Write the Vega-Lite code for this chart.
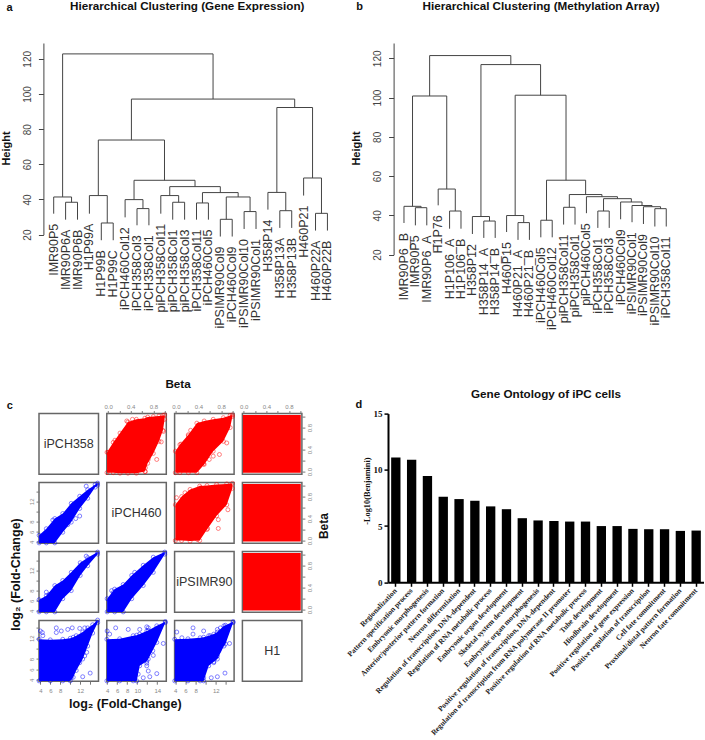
{"$schema":"https://vega.github.io/schema/vega-lite/v6.json","autosize":{"type":"pad"},"padding":{"left":0,"top":0,"right":0,"bottom":0},"background":"white","config":{"view":{"stroke":null},"font":"Liberation Sans","axis":{"grid":false,"labelFlush":false}},
"datasets":{
"nodesA":[{"xl":0.75,"xr":13.39,"h":122.8,"bl":41.4,"br":97.1},{"xl":0,"xr":1.5,"h":41.4,"bl":31.9,"br":38.4},{"xl":1,"xr":2,"h":38.4,"bl":28.5,"br":28.5},{"xl":6.53,"xr":20.25,"h":97.1,"bl":73.8,"br":92.3},{"xl":3.75,"xr":9.31,"h":73.8,"bl":42.2,"br":50.9},{"xl":3,"xr":4.5,"h":42.2,"bl":31.9,"br":26.6},{"xl":4,"xr":5,"h":26.6,"bl":16.8,"br":16.8},{"xl":6.75,"xr":11.875,"h":50.9,"bl":39.9,"br":47.3},{"xl":6,"xr":7.5,"h":39.9,"bl":29.8,"br":34.8},{"xl":7,"xr":8,"h":34.8,"bl":25.3,"br":25.3},{"xl":9.75,"xr":14,"h":47.3,"bl":42.2,"br":43.9},{"xl":9,"xr":10.5,"h":42.2,"bl":31.9,"br":38.4},{"xl":10,"xr":11,"h":38.4,"bl":28.5,"br":28.5},{"xl":12.5,"xr":15.5,"h":43.9,"bl":38,"br":41.4},{"xl":12,"xr":13,"h":38,"bl":28.5,"br":28.5},{"xl":14.5,"xr":16.5,"h":41.4,"bl":28.7,"br":33.1},{"xl":14,"xr":15,"h":28.7,"bl":18.9,"br":18.9},{"xl":16,"xr":17,"h":33.1,"bl":23.2,"br":23.2},{"xl":18.75,"xr":21.75,"h":92.3,"bl":44,"br":52.2},{"xl":18,"xr":19.5,"h":44,"bl":34.2,"br":33.6},{"xl":19,"xr":20,"h":33.6,"bl":23.8,"br":23.8},{"xl":21,"xr":22.5,"h":52.2,"bl":42.2,"br":32.1},{"xl":22,"xr":23,"h":32.1,"bl":22.3,"br":22.3}],
"leavesA":[{"i":0,"n":"IMR90P5","low":31.9},{"i":1,"n":"IMR90P6A","low":28.5},{"i":2,"n":"IMR90P6B","low":28.5},{"i":3,"n":"H1P99A","low":31.9},{"i":4,"n":"H1P99B","low":16.8},{"i":5,"n":"H1P99C","low":16.8},{"i":6,"n":"iPCH460Col12","low":29.8},{"i":7,"n":"iPCH358Col3","low":25.3},{"i":8,"n":"iPCH358Col1","low":25.3},{"i":9,"n":"piPCH358Col11","low":31.9},{"i":10,"n":"piPCH358Col1","low":28.5},{"i":11,"n":"piPCH358Col3","low":28.5},{"i":12,"n":"iPCH358Col11","low":28.5},{"i":13,"n":"iPCH460Col5","low":28.5},{"i":14,"n":"iPSIMR90Col9","low":18.9},{"i":15,"n":"iPCH460Col9","low":18.9},{"i":16,"n":"iPSIMR90Col10","low":23.2},{"i":17,"n":"iPSIMR90Col1","low":23.2},{"i":18,"n":"H358P14","low":34.2},{"i":19,"n":"H358P13A","low":23.8},{"i":20,"n":"H358P13B","low":23.8},{"i":21,"n":"H460P21","low":42.2},{"i":22,"n":"H460P22A","low":22.3},{"i":23,"n":"H460P22B","low":22.3}],
"nodesB":[{"xl":2.25,"xr":9.37,"h":121.4,"bl":100.8,"br":116.8},{"xl":0.75,"xr":3.75,"h":100.8,"bl":44.6,"br":53.4},{"xl":0,"xr":1.5,"h":44.6,"bl":36.1,"br":43.9},{"xl":1,"xr":2,"h":43.9,"bl":34.9,"br":34.9},{"xl":3,"xr":4.5,"h":53.4,"bl":45.1,"br":42.2},{"xl":4,"xr":5,"h":42.2,"bl":33.2,"br":33.2},{"xl":6.75,"xr":11.98,"h":116.8,"bl":39.4,"br":101.2},{"xl":6,"xr":7.5,"h":39.4,"bl":30.5,"br":37.1},{"xl":7,"xr":8,"h":37.1,"bl":28.5,"br":28.5},{"xl":9.75,"xr":14.21,"h":101.2,"bl":39.9,"br":57.9},{"xl":9,"xr":10.5,"h":39.9,"bl":31.5,"br":36.3},{"xl":10,"xr":11,"h":36.3,"bl":27.5,"br":27.5},{"xl":12.5,"xr":15.93,"h":57.9,"bl":37.5,"br":50.6},{"xl":12,"xr":13,"h":37.5,"bl":28.8,"br":28.8},{"xl":14.5,"xr":17.36,"h":50.6,"bl":44.1,"br":49.5},{"xl":14,"xr":15,"h":44.1,"bl":35.3,"br":35.3},{"xl":16,"xr":18.72,"h":49.5,"bl":41.1,"br":48.5},{"xl":17.5,"xr":19.94,"h":48.5,"bl":42.2,"br":46.8},{"xl":17,"xr":18,"h":42.2,"bl":33.6,"br":33.6},{"xl":19,"xr":20.875,"h":46.8,"bl":38,"br":45},{"xl":20,"xr":21.75,"h":45,"bl":36.5,"br":44.4},{"xl":21,"xr":22.5,"h":44.4,"bl":35.6,"br":43.4},{"xl":22,"xr":23,"h":43.4,"bl":34.3,"br":34.3}],
"leavesB":[{"i":0,"n":"IMR90P6_B","low":36.1},{"i":1,"n":"IMR90P5","low":34.9},{"i":2,"n":"IMR90P6_A","low":34.9},{"i":3,"n":"H1P76","low":45.1},{"i":4,"n":"H1P106_A","low":33.2},{"i":5,"n":"H1P106_B","low":33.2},{"i":6,"n":"H358P12","low":30.5},{"i":7,"n":"H358P14_A","low":28.5},{"i":8,"n":"H358P14_B","low":28.5},{"i":9,"n":"H460P15","low":31.5},{"i":10,"n":"H460P21_A","low":27.5},{"i":11,"n":"H460P21_B","low":27.5},{"i":12,"n":"iPCH460Col5","low":28.8},{"i":13,"n":"iPCH460Col12","low":28.8},{"i":14,"n":"piPCH358Col11","low":35.3},{"i":15,"n":"piPCH358Col1","low":35.3},{"i":16,"n":"piPCH460Col5","low":41.1},{"i":17,"n":"iPCH358Col1","low":33.6},{"i":18,"n":"iPCH358Col3","low":33.6},{"i":19,"n":"iPCH460Col9","low":38},{"i":20,"n":"iPSIMR90Col1","low":36.5},{"i":21,"n":"iPSIMR90Col9","low":35.6},{"i":22,"n":"iPSIMR90Col10","low":34.3},{"i":23,"n":"iPCH358Col11","low":34.3}],
"cloud":[
{"p":"r1c2","x":-0.02,"lo":-0.02,"hi":0.35},{"p":"r1c2","x":0.09,"lo":-0.02,"hi":0.53},{"p":"r1c2","x":0.21,"lo":-0.03,"hi":0.7},{"p":"r1c2","x":0.35,"lo":-0.03,"hi":0.9},{"p":"r1c2","x":0.5,"lo":-0.03,"hi":0.95},{"p":"r1c2","x":0.65,"lo":0,"hi":0.97},{"p":"r1c2","x":0.7,"lo":0.15,"hi":0.99},{"p":"r1c2","x":0.8,"lo":0.33,"hi":1},{"p":"r1c2","x":0.9,"lo":0.55,"hi":1.01},{"p":"r1c2","x":0.97,"lo":0.75,"hi":1.02},{"p":"r1c2","x":1,"lo":0.95,"hi":1.03},
{"p":"r1c2","x":0,"hi":0.35},{"p":"r1c2","x":0.12,"hi":0.57},{"p":"r1c2","x":0.33,"hi":0.92},{"p":"r1c2","x":0.43,"hi":0.95},{"p":"r1c2","x":0.4,"hi":0.82},{"p":"r1c2","x":0.66,"hi":0},{"p":"r1c2","x":0.71,"hi":0.22},{"p":"r1c2","x":0.86,"hi":0.22},{"p":"r1c2","x":0.94,"hi":0.54},{"p":"r1c2","x":0.98,"hi":0.73},{"p":"r1c2","x":0.66,"hi":0.07},
{"p":"r1c3","x":-0.01,"lo":-0.02,"hi":0.37},{"p":"r1c3","x":0.07,"lo":-0.02,"hi":0.49},{"p":"r1c3","x":0.22,"lo":-0.02,"hi":0.67},{"p":"r1c3","x":0.37,"lo":-0.02,"hi":0.88},{"p":"r1c3","x":0.5,"lo":0.13,"hi":0.92},{"p":"r1c3","x":0.66,"lo":0.37,"hi":0.95},{"p":"r1c3","x":0.84,"lo":0.55,"hi":0.98},{"p":"r1c3","x":0.96,"lo":0.8,"hi":1.02},{"p":"r1c3","x":1,"lo":1,"hi":1.03},
{"p":"r1c3","x":0.09,"hi":0.5},{"p":"r1c3","x":0.22,"hi":0.65},{"p":"r1c3","x":0.4,"hi":0.85},{"p":"r1c3","x":0.41,"hi":0.85},{"p":"r1c3","x":0.26,"hi":0.75},{"p":"r1c3","x":0.66,"hi":0.28},{"p":"r1c3","x":0.77,"hi":0.31},{"p":"r1c3","x":0.9,"hi":0.52},{"p":"r1c3","x":0.59,"hi":0.22},{"p":"r1c3","x":0.49,"hi":0.14},
{"p":"r2c3","x":-0.01,"lo":0,"hi":0.65},{"p":"r2c3","x":0.1,"lo":0,"hi":0.8},{"p":"r2c3","x":0.25,"lo":-0.01,"hi":0.93},{"p":"r2c3","x":0.42,"lo":0,"hi":0.99},{"p":"r2c3","x":0.55,"lo":0.2,"hi":1},{"p":"r2c3","x":0.72,"lo":0.45,"hi":1.02},{"p":"r2c3","x":0.9,"lo":0.65,"hi":1.03},{"p":"r2c3","x":1,"lo":0.95,"hi":1.04},
{"p":"r2c3","x":0.01,"hi":0.78},{"p":"r2c3","x":0.16,"hi":0.87},{"p":"r2c3","x":0.44,"hi":0.96},{"p":"r2c3","x":0.38,"hi":0.02},{"p":"r2c3","x":0.56,"hi":0.22},{"p":"r2c3","x":0.75,"hi":0.22},{"p":"r2c3","x":0.75,"hi":0.38},{"p":"r2c3","x":0.92,"hi":0.56},
{"p":"r1c4","x":-0.015,"lo":-0.02,"hi":1.03},{"p":"r1c4","x":1.01,"lo":-0.02,"hi":1.03},
{"p":"r2c4","x":-0.015,"lo":-0.015,"hi":1.03},{"p":"r2c4","x":1.01,"lo":-0.015,"hi":1.03},
{"p":"r3c4","x":-0.015,"lo":-0.015,"hi":1.03},{"p":"r3c4","x":1.01,"lo":-0.015,"hi":1.03},
{"p":"r2c1","x":3.75,"lo":3.8,"hi":5.3},{"p":"r2c1","x":5.2,"lo":3.8,"hi":6.6},{"p":"r2c1","x":6.9,"lo":3.8,"hi":8.6},{"p":"r2c1","x":8.5,"lo":5.9,"hi":9.6},{"p":"r2c1","x":10.2,"lo":7.9,"hi":11.6},{"p":"r2c1","x":11.9,"lo":10.6,"hi":13},{"p":"r2c1","x":13.5,"lo":12.6,"hi":14.3},{"p":"r2c1","x":15,"lo":14.8,"hi":15.3},{"p":"r2c1","x":15.5,"lo":15.2,"hi":15.6},
{"p":"r2c1","x":13.2,"hi":15},{"p":"r2c1","x":11.9,"hi":9.1},{"p":"r2c1","x":11.1,"hi":8.6},{"p":"r2c1","x":6.5,"hi":8.3},{"p":"r2c1","x":9.5,"hi":7.4},
{"p":"r3c1","x":3.75,"lo":3.8,"hi":6.2},{"p":"r3c1","x":5.2,"lo":3.8,"hi":7},{"p":"r3c1","x":6.9,"lo":3.8,"hi":9},{"p":"r3c1","x":8.5,"lo":6.4,"hi":10},{"p":"r3c1","x":10.2,"lo":8,"hi":11.6},{"p":"r3c1","x":12,"lo":11,"hi":13.5},{"p":"r3c1","x":13.5,"lo":12.9,"hi":14.5},{"p":"r3c1","x":15.5,"lo":15.2,"hi":15.6},
{"p":"r3c1","x":13.2,"hi":14.8},{"p":"r3c1","x":5.2,"hi":7.7},{"p":"r3c1","x":5.7,"hi":7.2},
{"p":"r3c2","x":4,"lo":3.8,"hi":6.4},{"p":"r3c2","x":5.5,"lo":3.8,"hi":8.3},{"p":"r3c2","x":7.2,"lo":3.8,"hi":9.2},{"p":"r3c2","x":8.9,"lo":6.4,"hi":11},{"p":"r3c2","x":11.2,"lo":9,"hi":13},{"p":"r3c2","x":13.2,"lo":11.6,"hi":14.6},{"p":"r3c2","x":15.5,"lo":15.2,"hi":15.6},
{"p":"r3c2","x":9.5,"hi":11.6},{"p":"r3c2","x":4.9,"hi":8},{"p":"r3c2","x":5.2,"hi":7.6},
{"p":"r4c1","x":3.75,"lo":3.8,"hi":11.8},{"p":"r4c1","x":6,"lo":3.8,"hi":11.7},{"p":"r4c1","x":8.5,"lo":3.8,"hi":11.8},{"p":"r4c1","x":10,"lo":3.8,"hi":12},{"p":"r4c1","x":10.6,"lo":4.5,"hi":12.2},{"p":"r4c1","x":11.2,"lo":5.8,"hi":12.5},{"p":"r4c1","x":12.5,"lo":8,"hi":13.2},{"p":"r4c1","x":13.5,"lo":10.5,"hi":14},{"p":"r4c1","x":14.5,"lo":13,"hi":14.6},{"p":"r4c1","x":15.5,"lo":15,"hi":15.5},
{"p":"r4c1","x":4,"hi":13.4},{"p":"r4c1","x":4.4,"hi":13.1},{"p":"r4c1","x":4.5,"hi":12.5},{"p":"r4c1","x":7.2,"hi":14},{"p":"r4c1","x":7.2,"hi":13.1},{"p":"r4c1","x":8.2,"hi":13.4},{"p":"r4c1","x":9.5,"hi":13.7},{"p":"r4c1","x":10.4,"hi":14},{"p":"r4c1","x":11.9,"hi":13.9},{"p":"r4c1","x":12.9,"hi":14},{"p":"r4c1","x":11.9,"hi":9.6},{"p":"r4c1","x":13.3,"hi":9.3},{"p":"r4c1","x":12.9,"hi":8.6},{"p":"r4c1","x":11.5,"hi":8},{"p":"r4c1","x":10.9,"hi":6.7},{"p":"r4c1","x":10.2,"hi":4.4},{"p":"r4c1","x":12.5,"hi":4.6},{"p":"r4c1","x":14,"hi":5.3},{"p":"r4c1","x":11.9,"hi":7.3},
{"p":"r4c2","x":3.95,"lo":3.8,"hi":11.8},{"p":"r4c2","x":6.5,"lo":3.8,"hi":11.9},{"p":"r4c2","x":9.2,"lo":3.8,"hi":12.5},{"p":"r4c2","x":9.9,"lo":3.8,"hi":12.6},{"p":"r4c2","x":10.5,"lo":6.7,"hi":12.8},{"p":"r4c2","x":11.9,"lo":7.6,"hi":13.4},{"p":"r4c2","x":12.2,"lo":8,"hi":13.5},{"p":"r4c2","x":13.9,"lo":11.2,"hi":14.4},{"p":"r4c2","x":15.6,"lo":15,"hi":15.2},
{"p":"r4c2","x":5.7,"hi":14},{"p":"r4c2","x":4,"hi":13.4},{"p":"r4c2","x":4.5,"hi":12.8},{"p":"r4c2","x":8.2,"hi":13.7},{"p":"r4c2","x":10.5,"hi":13.7},{"p":"r4c2","x":11.9,"hi":14.2},{"p":"r4c2","x":12.2,"hi":14},{"p":"r4c2","x":15.2,"hi":11},{"p":"r4c2","x":13.1,"hi":9.6},{"p":"r4c2","x":13.2,"hi":8.7},{"p":"r4c2","x":11.9,"hi":6.7},{"p":"r4c2","x":12.2,"hi":5.7},{"p":"r4c2","x":11.2,"hi":4.4},{"p":"r4c2","x":12.5,"hi":4.6},{"p":"r4c2","x":13.9,"hi":5.2},{"p":"r4c2","x":11.9,"hi":7.2},{"p":"r4c2","x":10.2,"hi":5.1},
{"p":"r4c3","x":3.9,"lo":3.8,"hi":11.8},{"p":"r4c3","x":6.5,"lo":3.8,"hi":11.9},{"p":"r4c3","x":8.9,"lo":3.8,"hi":12.1},{"p":"r4c3","x":9.6,"lo":3.8,"hi":12.2},{"p":"r4c3","x":10.6,"lo":6.7,"hi":12.5},{"p":"r4c3","x":11.6,"lo":7.5,"hi":12.8},{"p":"r4c3","x":12.3,"lo":8,"hi":13.2},{"p":"r4c3","x":13.6,"lo":10.5,"hi":14.4},{"p":"r4c3","x":13.9,"lo":10.9,"hi":14.5},{"p":"r4c3","x":15.4,"lo":15,"hi":15.2},
{"p":"r4c3","x":7.5,"hi":14},{"p":"r4c3","x":4.3,"hi":13.2},{"p":"r4c3","x":5.3,"hi":12.1},{"p":"r4c3","x":7.5,"hi":12.8},{"p":"r4c3","x":9.6,"hi":13.4},{"p":"r4c3","x":12.3,"hi":13.7},{"p":"r4c3","x":12.9,"hi":14},{"p":"r4c3","x":10.9,"hi":12.5},{"p":"r4c3","x":14.7,"hi":11},{"p":"r4c3","x":12.6,"hi":9.6},{"p":"r4c3","x":12.3,"hi":8.6},{"p":"r4c3","x":11.6,"hi":7.3},{"p":"r4c3","x":11.1,"hi":4.4},{"p":"r4c3","x":12.3,"hi":4.6},{"p":"r4c3","x":13.8,"hi":5.3},{"p":"r4c3","x":9.6,"hi":4.4}
],
"go":[{"t":"Regionalization","v":11.1},{"t":"Pattern specification process","v":10.9},{"t":"Embryonic morphogenesis","v":9.45},{"t":"Anterior/posterior pattern formation","v":7.6},{"t":"Neuron differentiation","v":7.4},{"t":"Regulation of transcription, DNA-dependent","v":7.25},{"t":"Regulation of RNA metabolic process","v":6.75},{"t":"Embryonic organ development","v":6.5},{"t":"Skeletal system development","v":5.7},{"t":"Embryonic organ morphogenesis","v":5.5},{"t":"Positive regulation of transcription, DNA-dependent","v":5.45},{"t":"Regulation of transcription from RNA polymerase II promoter","v":5.4},{"t":"Positive regulation of RNA metabolic process","v":5.4},{"t":"Tube development","v":5},{"t":"Hindbrain development","v":5},{"t":"Positive regulation of gene expression","v":4.75},{"t":"Positive regulation of transcription","v":4.72},{"t":"Cell fate commitment","v":4.72},{"t":"Proximal/distal pattern formation","v":4.57},{"t":"Neuron fate commitment","v":4.6}]
},
"bounds":"flush","spacing":370.6,
"vconcat":[
{"bounds":"flush","spacing":57.6,"hconcat":[
{"width":296.4,"height":191.6,
"title":{"text":"Hierarchical Clustering (Gene Expression)","fontSize":11.7,"fontWeight":"bold","anchor":"middle","offset":-11,"color":"#111"},
"layer":[
{"data":{"name":"nodesA"},"mark":{"type":"rule","color":"#444","strokeWidth":1},"encoding":{"x":{"field":"xl","type":"quantitative","scale":{"domain":[-1.235,23.67],"nice":false,"zero":false},"axis":null},"x2":{"field":"xr"},"y":{"field":"h","type":"quantitative","scale":{"domain":[20,129],"nice":false,"zero":false},"axis":{"tickCount":6,"labelOverlap":false,"title":"Height","offset":-4.4,"values":[20,40,60,80,100,120],"labelAngle":270,"labelAlign":"center","labelBaseline":"bottom","labelFontSize":10,"labelColor":"#444","labelPadding":6,"tickSize":5,"tickColor":"#444","domainColor":"#444","titleFontSize":11,"titleFontWeight":"bold","titleColor":"#111","titleX":-32,"titleY":105}}}},
{"data":{"name":"nodesA"},"mark":{"type":"rule","color":"#444","strokeWidth":1},"encoding":{"x":{"field":"xl","type":"quantitative"},"y":{"field":"h","type":"quantitative"},"y2":{"field":"bl"}}},
{"data":{"name":"nodesA"},"mark":{"type":"rule","color":"#444","strokeWidth":1},"encoding":{"x":{"field":"xr","type":"quantitative"},"y":{"field":"h","type":"quantitative"},"y2":{"field":"br"}}},
{"data":{"name":"leavesA"},"mark":{"type":"text","angle":270,"align":"right","baseline":"middle","fontSize":12.5,"color":"#333","dx":-10},"encoding":{"x":{"field":"i","type":"quantitative"},"y":{"field":"low","type":"quantitative"},"text":{"field":"n"}}},
{"data":{"values":[{"l":"a"}]},"mark":{"type":"text","fontWeight":"bold","fontSize":11,"color":"#111"},"encoding":{"x":{"datum":-3.7},"y":{"datum":149},"text":{"field":"l"}}}
]},
{"width":295,"height":211.6,
"title":{"text":"Hierarchical Clustering (Methylation Array)","fontSize":11.7,"fontWeight":"bold","anchor":"middle","offset":-11,"color":"#111"},
"layer":[
{"data":{"name":"nodesB"},"mark":{"type":"rule","color":"#444","strokeWidth":1},"encoding":{"x":{"field":"xl","type":"quantitative","scale":{"domain":[-0.91,24.96],"nice":false,"zero":false},"axis":null},"x2":{"field":"xr"},"y":{"field":"h","type":"quantitative","scale":{"domain":[20,127.8],"nice":false,"zero":false},"axis":{"tickCount":6,"labelOverlap":false,"title":"Height","values":[20,40,60,80,100,120],"labelAngle":270,"labelAlign":"center","labelBaseline":"bottom","labelFontSize":10,"labelColor":"#444","labelPadding":6,"tickSize":5,"tickColor":"#444","domainColor":"#444","titleFontSize":11,"titleFontWeight":"bold","titleColor":"#111","titleX":-32,"titleY":105}}}},
{"data":{"name":"nodesB"},"mark":{"type":"rule","color":"#444","strokeWidth":1},"encoding":{"x":{"field":"xl","type":"quantitative"},"y":{"field":"h","type":"quantitative"},"y2":{"field":"bl"}}},
{"data":{"name":"nodesB"},"mark":{"type":"rule","color":"#444","strokeWidth":1},"encoding":{"x":{"field":"xr","type":"quantitative"},"y":{"field":"h","type":"quantitative"},"y2":{"field":"br"}}},
{"data":{"name":"leavesB"},"mark":{"type":"text","angle":270,"align":"right","baseline":"middle","fontSize":12.5,"color":"#333","dx":-10},"encoding":{"x":{"field":"i","type":"quantitative"},"y":{"field":"low","type":"quantitative"},"text":{"field":"n"}}},
{"data":{"values":[{"l":"b"}]},"mark":{"type":"text","fontWeight":"bold","fontSize":11,"color":"#111"},"encoding":{"x":{"datum":-3.9},"y":{"datum":146},"text":{"field":"l"}}}
]}
]},
{"bounds":"flush","spacing":349,"hconcat":[
{"bounds":"flush","spacing":{"row":8,"column":7.8},"columns":4,
"title":{"text":"Beta","fontSize":11.7,"fontWeight":"bold","anchor":"middle","offset":9,"dx":10,"color":"#111"},
"concat":[
{"width":59.5,"height":60.6,"view":{"stroke":"#666","strokeWidth":1.5},"data":{"values":[{"l":"iPCH358"}]},"layer":[
{"mark":{"type":"text","fontSize":12.5,"color":"#333"},"encoding":{"x":{"datum":0.5,"type":"quantitative","scale":{"domain":[0,1]},"axis":null},"y":{"datum":0.5,"type":"quantitative","scale":{"domain":[0,1]},"axis":null},"text":{"field":"l"}}},
{"mark":{"type":"text","fontSize":11,"fontWeight":"bold","color":"#111"},"encoding":{"x":{"datum":-0.49,"type":"quantitative"},"y":{"datum":1.12,"type":"quantitative"},"text":{"value":"c"}}}]},
{"width":59.5,"height":60.6,"view":{"stroke":"#666","strokeWidth":1.5},"data":{"name":"cloud"},"transform":[{"filter":"datum.p=='r1c2'"}],"layer":[
{"transform":[{"filter":"isValid(datum.lo)"}],"mark":{"type":"area","color":"#ff0000"},"encoding":{"x":{"field":"x","type":"quantitative","scale":{"domain":[-0.024,1.03],"nice":false},"axis":{"tickCount":6,"labelOverlap":false,"orient":"top","title":null,"values":[0,0.2,0.4,0.6,0.8,1],"labelExpr":"datum.value==0||datum.value==0.4||datum.value==0.8?format(datum.value,'.1f'):''","labelFontSize":6,"labelColor":"#888","tickColor":"#777","tickSize":3,"domain":false,"labelPadding":1}},"y":{"field":"lo","type":"quantitative","scale":{"domain":[-0.048,1.054],"nice":false},"axis":null},"y2":{"field":"hi"}}},
{"mark":{"type":"point","color":"#ff0000","size":16,"strokeWidth":0.7},"encoding":{"x":{"field":"x","type":"quantitative"},"y":{"field":"hi","type":"quantitative"}}},
{"mark":{"type":"point","color":"#ff0000","size":16,"strokeWidth":0.7},"encoding":{"x":{"field":"x","type":"quantitative"},"y":{"field":"lo","type":"quantitative"}}}]},
{"width":59.5,"height":60.6,"view":{"stroke":"#666","strokeWidth":1.5},"data":{"name":"cloud"},"transform":[{"filter":"datum.p=='r1c3'"}],"layer":[
{"transform":[{"filter":"isValid(datum.lo)"}],"mark":{"type":"area","color":"#ff0000"},"encoding":{"x":{"field":"x","type":"quantitative","scale":{"domain":[-0.024,1.03],"nice":false},"axis":{"tickCount":6,"labelOverlap":false,"orient":"top","title":null,"values":[0,0.2,0.4,0.6,0.8,1],"labelExpr":"datum.value==0||datum.value==0.4||datum.value==0.8?format(datum.value,'.1f'):''","labelFontSize":6,"labelColor":"#888","tickColor":"#777","tickSize":3,"domain":false,"labelPadding":1}},"y":{"field":"lo","type":"quantitative","scale":{"domain":[-0.048,1.054],"nice":false},"axis":null},"y2":{"field":"hi"}}},
{"mark":{"type":"point","color":"#ff0000","size":16,"strokeWidth":0.7},"encoding":{"x":{"field":"x","type":"quantitative"},"y":{"field":"hi","type":"quantitative"}}},
{"mark":{"type":"point","color":"#ff0000","size":16,"strokeWidth":0.7},"encoding":{"x":{"field":"x","type":"quantitative"},"y":{"field":"lo","type":"quantitative"}}}]},
{"width":59.5,"height":60.6,"view":{"stroke":"#666","strokeWidth":1.5},"data":{"name":"cloud"},"transform":[{"filter":"datum.p=='r1c4'"}],"layer":[
{"mark":{"type":"area","color":"#ff0000"},"encoding":{"x":{"field":"x","type":"quantitative","scale":{"domain":[-0.024,1.03],"nice":false},"axis":{"tickCount":6,"labelOverlap":false,"orient":"top","title":null,"values":[0,0.2,0.4,0.6,0.8,1],"labelExpr":"datum.value==0||datum.value==0.4||datum.value==0.8?format(datum.value,'.1f'):''","labelFontSize":6,"labelColor":"#888","tickColor":"#777","tickSize":3,"domain":false,"labelPadding":1}},"y":{"field":"lo","type":"quantitative","scale":{"domain":[-0.048,1.054],"nice":false},"axis":{"tickCount":6,"labelOverlap":false,"orient":"right","title":null,"values":[0,0.2,0.4,0.6,0.8,1],"labelExpr":"datum.value==0||datum.value==0.4||datum.value==0.8?format(datum.value,'.1f'):''","labelFontSize":6,"labelColor":"#888","labelAngle":270,"labelAlign":"center","labelBaseline":"top","tickColor":"#777","tickSize":3,"domain":false,"labelPadding":2}},"y2":{"field":"hi"}}}]},
{"width":59.5,"height":60.6,"view":{"stroke":"#666","strokeWidth":1.5},"data":{"name":"cloud"},"transform":[{"filter":"datum.p=='r2c1'"}],"layer":[
{"transform":[{"filter":"isValid(datum.lo)"}],"mark":{"type":"area","color":"#0000ff"},"encoding":{"x":{"field":"x","type":"quantitative","scale":{"domain":[3.73,15.67],"nice":false,"zero":false},"axis":null},"y":{"field":"lo","type":"quantitative","scale":{"domain":[3.74,15.7],"nice":false,"zero":false},"axis":{"tickCount":6,"labelOverlap":false,"title":null,"values":[4,6,8,10,12,14],"labelExpr":"datum.value==10||datum.value==14?'':datum.value","labelFontSize":6,"labelColor":"#888","labelAngle":270,"labelAlign":"center","labelBaseline":"bottom","tickColor":"#777","tickSize":3,"domain":false,"labelPadding":2}},"y2":{"field":"hi"}}},
{"mark":{"type":"point","color":"#0000ff","size":16,"strokeWidth":0.7},"encoding":{"x":{"field":"x","type":"quantitative"},"y":{"field":"hi","type":"quantitative"}}},
{"mark":{"type":"point","color":"#0000ff","size":16,"strokeWidth":0.7},"encoding":{"x":{"field":"x","type":"quantitative"},"y":{"field":"lo","type":"quantitative"}}}]},
{"width":59.5,"height":60.6,"view":{"stroke":"#666","strokeWidth":1.5},"data":{"values":[{"l":"iPCH460"}]},"mark":{"type":"text","fontSize":12.5,"color":"#333"},"encoding":{"text":{"field":"l"}}},
{"width":59.5,"height":60.6,"view":{"stroke":"#666","strokeWidth":1.5},"data":{"name":"cloud"},"transform":[{"filter":"datum.p=='r2c3'"}],"layer":[
{"transform":[{"filter":"isValid(datum.lo)"}],"mark":{"type":"area","color":"#ff0000"},"encoding":{"x":{"field":"x","type":"quantitative","scale":{"domain":[-0.024,1.03],"nice":false},"axis":null},"y":{"field":"lo","type":"quantitative","scale":{"domain":[-0.048,1.054],"nice":false},"axis":null},"y2":{"field":"hi"}}},
{"mark":{"type":"point","color":"#ff0000","size":16,"strokeWidth":0.7},"encoding":{"x":{"field":"x","type":"quantitative"},"y":{"field":"hi","type":"quantitative"}}},
{"mark":{"type":"point","color":"#ff0000","size":16,"strokeWidth":0.7},"encoding":{"x":{"field":"x","type":"quantitative"},"y":{"field":"lo","type":"quantitative"}}}]},
{"width":59.5,"height":60.6,"view":{"stroke":"#666","strokeWidth":1.5},"data":{"name":"cloud"},"transform":[{"filter":"datum.p=='r2c4'"}],"layer":[
{"mark":{"type":"area","color":"#ff0000"},"encoding":{"x":{"field":"x","type":"quantitative","scale":{"domain":[-0.024,1.03],"nice":false},"axis":null},"y":{"field":"lo","type":"quantitative","scale":{"domain":[-0.048,1.054],"nice":false},"axis":{"tickCount":6,"labelOverlap":false,"orient":"right","title":"Beta","titleAngle":270,"titleFontSize":12,"titleFontWeight":"bold","titleColor":"#111","titleX":28.5,"titleY":43,"values":[0,0.2,0.4,0.6,0.8,1],"labelExpr":"datum.value==0||datum.value==0.4||datum.value==0.8?format(datum.value,'.1f'):''","labelFontSize":6,"labelColor":"#888","labelAngle":270,"labelAlign":"center","labelBaseline":"top","tickColor":"#777","tickSize":3,"domain":false,"labelPadding":2}},"y2":{"field":"hi"}}}]},
{"width":59.5,"height":60.6,"view":{"stroke":"#666","strokeWidth":1.5},"data":{"name":"cloud"},"transform":[{"filter":"datum.p=='r3c1'"}],"layer":[
{"transform":[{"filter":"isValid(datum.lo)"}],"mark":{"type":"area","color":"#0000ff"},"encoding":{"x":{"field":"x","type":"quantitative","scale":{"domain":[3.73,15.67],"nice":false,"zero":false},"axis":null},"y":{"field":"lo","type":"quantitative","scale":{"domain":[3.74,15.7],"nice":false,"zero":false},"axis":{"tickCount":6,"labelOverlap":false,"title":"log₂ (Fold-Change)","titleFontSize":12.5,"titleFontWeight":"bold","titleColor":"#111","titleX":-16.3,"titleY":22.4,"values":[4,6,8,10,12,14],"labelExpr":"datum.value==10||datum.value==14?'':datum.value","labelFontSize":6,"labelColor":"#888","labelAngle":270,"labelAlign":"center","labelBaseline":"bottom","tickColor":"#777","tickSize":3,"domain":false,"labelPadding":2}},"y2":{"field":"hi"}}},
{"mark":{"type":"point","color":"#0000ff","size":16,"strokeWidth":0.7},"encoding":{"x":{"field":"x","type":"quantitative"},"y":{"field":"hi","type":"quantitative"}}},
{"mark":{"type":"point","color":"#0000ff","size":16,"strokeWidth":0.7},"encoding":{"x":{"field":"x","type":"quantitative"},"y":{"field":"lo","type":"quantitative"}}}]},
{"width":59.5,"height":60.6,"view":{"stroke":"#666","strokeWidth":1.5},"data":{"name":"cloud"},"transform":[{"filter":"datum.p=='r3c2'"}],"layer":[
{"transform":[{"filter":"isValid(datum.lo)"}],"mark":{"type":"area","color":"#0000ff"},"encoding":{"x":{"field":"x","type":"quantitative","scale":{"domain":[3.93,15.8],"nice":false,"zero":false},"axis":null},"y":{"field":"lo","type":"quantitative","scale":{"domain":[3.74,15.7],"nice":false,"zero":false},"axis":null},"y2":{"field":"hi"}}},
{"mark":{"type":"point","color":"#0000ff","size":16,"strokeWidth":0.7},"encoding":{"x":{"field":"x","type":"quantitative"},"y":{"field":"hi","type":"quantitative"}}},
{"mark":{"type":"point","color":"#0000ff","size":16,"strokeWidth":0.7},"encoding":{"x":{"field":"x","type":"quantitative"},"y":{"field":"lo","type":"quantitative"}}}]},
{"width":59.5,"height":60.6,"view":{"stroke":"#666","strokeWidth":1.5},"data":{"values":[{"l":"iPSIMR90"}]},"mark":{"type":"text","fontSize":12.5,"color":"#333"},"encoding":{"text":{"field":"l"}}},
{"width":59.5,"height":60.6,"view":{"stroke":"#666","strokeWidth":1.5},"data":{"name":"cloud"},"transform":[{"filter":"datum.p=='r3c4'"}],"layer":[
{"mark":{"type":"area","color":"#ff0000"},"encoding":{"x":{"field":"x","type":"quantitative","scale":{"domain":[-0.024,1.03],"nice":false},"axis":null},"y":{"field":"lo","type":"quantitative","scale":{"domain":[-0.048,1.054],"nice":false},"axis":{"tickCount":6,"labelOverlap":false,"orient":"right","title":null,"values":[0,0.2,0.4,0.6,0.8,1],"labelExpr":"datum.value==0||datum.value==0.4||datum.value==0.8?format(datum.value,'.1f'):''","labelFontSize":6,"labelColor":"#888","labelAngle":270,"labelAlign":"center","labelBaseline":"top","tickColor":"#777","tickSize":3,"domain":false,"labelPadding":2}},"y2":{"field":"hi"}}}]},
{"width":59.5,"height":60.6,"view":{"stroke":"#666","strokeWidth":1.5},"data":{"name":"cloud"},"transform":[{"filter":"datum.p=='r4c1'"}],"layer":[
{"transform":[{"filter":"isValid(datum.lo)"}],"mark":{"type":"area","color":"#0000ff"},"encoding":{"x":{"field":"x","type":"quantitative","scale":{"domain":[3.73,15.67],"nice":false,"zero":false},"axis":{"tickCount":6,"labelOverlap":false,"title":null,"values":[4,6,8,10,12,14],"labelExpr":"datum.value==10||datum.value==14?'':datum.value","labelFontSize":6,"labelColor":"#888","tickColor":"#777","tickSize":3,"domain":false,"labelPadding":3}},"y":{"field":"lo","type":"quantitative","scale":{"domain":[3.74,15.4],"nice":false,"zero":false},"axis":{"tickCount":6,"labelOverlap":false,"title":null,"values":[4,6,8,10,12,14],"labelExpr":"datum.value==10||datum.value==14?'':datum.value","labelFontSize":6,"labelColor":"#888","labelAngle":270,"labelAlign":"center","labelBaseline":"bottom","tickColor":"#777","tickSize":3,"domain":false,"labelPadding":2}},"y2":{"field":"hi"}}},
{"mark":{"type":"point","color":"#0000ff","size":16,"strokeWidth":0.7},"encoding":{"x":{"field":"x","type":"quantitative"},"y":{"field":"hi","type":"quantitative"}}},
{"mark":{"type":"point","color":"#0000ff","size":16,"strokeWidth":0.7},"encoding":{"x":{"field":"x","type":"quantitative"},"y":{"field":"lo","type":"quantitative"}}}]},
{"width":59.5,"height":60.6,"view":{"stroke":"#666","strokeWidth":1.5},"data":{"name":"cloud"},"transform":[{"filter":"datum.p=='r4c2'"}],"layer":[
{"transform":[{"filter":"isValid(datum.lo)"}],"mark":{"type":"area","color":"#0000ff"},"encoding":{"x":{"field":"x","type":"quantitative","scale":{"domain":[3.93,15.8],"nice":false,"zero":false},"axis":{"tickCount":6,"labelOverlap":false,"title":"log₂ (Fold-Change)","titleFontSize":12.5,"titleFontWeight":"bold","titleColor":"#111","titleX":18,"titleY":16,"values":[4,6,8,10,12,14],"labelExpr":"datum.value==12?'':datum.value","labelFontSize":6,"labelColor":"#888","tickColor":"#777","tickSize":3,"domain":false,"labelPadding":3}},"y":{"field":"lo","type":"quantitative","scale":{"domain":[3.74,15.4],"nice":false,"zero":false},"axis":null},"y2":{"field":"hi"}}},
{"mark":{"type":"point","color":"#0000ff","size":16,"strokeWidth":0.7},"encoding":{"x":{"field":"x","type":"quantitative"},"y":{"field":"hi","type":"quantitative"}}},
{"mark":{"type":"point","color":"#0000ff","size":16,"strokeWidth":0.7},"encoding":{"x":{"field":"x","type":"quantitative"},"y":{"field":"lo","type":"quantitative"}}}]},
{"width":59.5,"height":60.6,"view":{"stroke":"#666","strokeWidth":1.5},"data":{"name":"cloud"},"transform":[{"filter":"datum.p=='r4c3'"}],"layer":[
{"transform":[{"filter":"isValid(datum.lo)"}],"mark":{"type":"area","color":"#0000ff"},"encoding":{"x":{"field":"x","type":"quantitative","scale":{"domain":[3.87,15.6],"nice":false,"zero":false},"axis":{"tickCount":6,"labelOverlap":false,"title":null,"values":[4,6,8,10,12,14],"labelExpr":"datum.value==10||datum.value==14?'':datum.value","labelFontSize":6,"labelColor":"#888","tickColor":"#777","tickSize":3,"domain":false,"labelPadding":3}},"y":{"field":"lo","type":"quantitative","scale":{"domain":[3.74,15.4],"nice":false,"zero":false},"axis":null},"y2":{"field":"hi"}}},
{"mark":{"type":"point","color":"#0000ff","size":16,"strokeWidth":0.7},"encoding":{"x":{"field":"x","type":"quantitative"},"y":{"field":"hi","type":"quantitative"}}},
{"mark":{"type":"point","color":"#0000ff","size":16,"strokeWidth":0.7},"encoding":{"x":{"field":"x","type":"quantitative"},"y":{"field":"lo","type":"quantitative"}}}]},
{"width":59.5,"height":60.6,"view":{"stroke":"#666","strokeWidth":1.5},"data":{"values":[{"l":"H1"}]},"mark":{"type":"text","fontSize":12.5,"color":"#333"},"encoding":{"text":{"field":"l"}}}
]},
{"width":316,"height":168.7,"data":{"name":"go"},
"title":{"text":"Gene Ontology of iPC cells","fontSize":11.7,"fontWeight":"bold","anchor":"middle","offset":-2,"color":"#111"},
"layer":[
{"mark":{"type":"bar","color":"#000"},"encoding":{"x":{"field":"t","type":"nominal","sort":null,"scale":{"paddingInner":0.41,"paddingOuter":0.2},"axis":{"labelOverlap":false,"title":null,"labelAngle":-46.5,"labelAlign":"right","labelBaseline":"middle","labelFont":"Liberation Serif","labelFontWeight":"bold","labelFontSize":7.45,"labelColor":"#222","labelLimit":400,"tickColor":"#000","tickWidth":1.5,"tickSize":4,"domainColor":"#000","domainWidth":2,"labelPadding":3}},"y":{"field":"v","type":"quantitative","scale":{"domain":[0,15],"nice":false},"axis":{"labelOverlap":false,"title":"-Log10(Benjamini)","values":[0,5,10,15],"labelFont":"Liberation Serif","labelFontWeight":"bold","labelFontSize":9,"labelColor":"#111","tickColor":"#000","tickWidth":1.5,"tickSize":4,"domainColor":"#000","domainWidth":2,"labelPadding":2,"titleFont":"Liberation Serif","titleFontSize":8.3,"titleFontWeight":"bold","titleColor":"#111","titleX":-17,"titleY":77}}}},
{"transform":[{"filter":"datum.t=='Regionalization'"}],"mark":{"type":"text","fontSize":11,"fontWeight":"bold","color":"#111","dx":-37},"encoding":{"x":{"field":"t","type":"nominal","sort":null},"y":{"datum":15.8},"text":{"value":"d"}}}
]}
]}
]}
